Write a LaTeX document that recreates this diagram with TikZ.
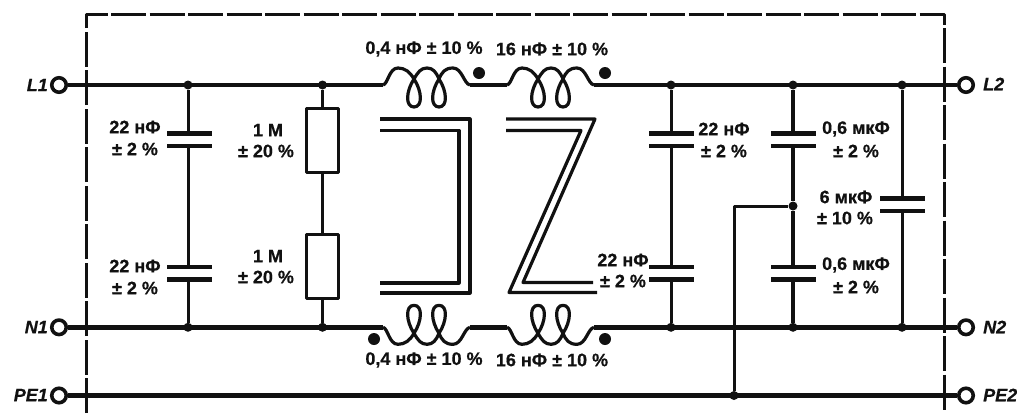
\documentclass[tikz,border=0pt]{standalone}
\usepackage{fontspec}
\setmainfont{Liberation Sans}[BoldFont={Liberation Sans Bold},BoldItalicFont={Liberation Sans Bold Italic},BoldFeatures={FakeBold=0.6},BoldItalicFeatures={FakeBold=0.6}]
\definecolor{ink}{HTML}{111111}
\tikzset{
  x=1pt,y=-1pt,
  every path/.style={draw=ink,line join=round},
  wire/.style={line width=4.4pt},
  thin wire/.style={line width=3pt},
  mid wire/.style={line width=4pt},
  plate/.style={line width=4.2pt},
  frame/.style={line width=3pt,dash pattern=on 35pt off 3.5pt},
  core/.style={line width=3.2pt,miter limit=20},
  coilline/.style={line width=3.2pt,line join=round},
  term/.style={circle,draw=ink,line width=3.6pt,fill=white,inner sep=0pt,minimum size=14.5pt},
  dot/.style={circle,fill=ink,draw=none,inner sep=0pt,minimum size=9pt},
  mark dot/.style={circle,fill=ink,draw=none,inner sep=0pt,minimum size=12pt},
  res/.style={rectangle,draw=ink,line width=3.2pt,fill=white,inner sep=0pt,minimum width=32pt,minimum height=64pt},
  lbl/.style={font=\bfseries\fontsize{18}{20}\selectfont,text=ink,inner sep=0pt,anchor=center},
  tname/.style={font=\bfseries\itshape\fontsize{18}{20}\selectfont,text=ink,inner sep=0pt},
}
\newcommand{\coilpath}[3]{% x start, y rail, direction
  \draw[coilline,shift={(#1,#2)},yscale=#3]
    (0,0) .. controls (5,-1) and (6,-17) .. (15,-17)
    .. controls (22,-17) and (27,-13) .. (31,-6)
    .. controls (39,6) and (40,22) .. (31,22)
    .. controls (22,22) and (23,6) .. (31,-6)
    .. controls (35,-13) and (38,-17) .. (44,-17)
    .. controls (50,-17) and (53,-13) .. (56,-6)
    .. controls (64,6) and (65,22) .. (56,22)
    .. controls (47,22) and (48,6) .. (56,-6)
    .. controls (59,-13) and (62,-17) .. (70,-17)
    .. controls (79,-17) and (81,-1) .. (87,0);
}
\newcommand{\capH}[3]{% name, x, upper plate y / lower plate y from #3
  \coordinate (#1a) at (#2,#3);
  \coordinate (#1b) at (#2,#3+12.5);
  \draw[plate] ([xshift=-22.5pt]#1a) -- ([xshift=22.5pt]#1a);
  \draw[plate] ([xshift=-22.5pt]#1b) -- ([xshift=22.5pt]#1b);
}
\begin{document}
\begin{tikzpicture}
\useasboundingbox[draw=none] (0,0) rectangle (1017,413);
% frame
\coordinate (fa) at (86.5,413);
\coordinate (fb) at (86.5,14);
\coordinate (fc) at (944,14);
\coordinate (fd) at (944,413);
\draw[frame] (fa) -- (fb) -- (fc) -- (fd);
% terminals
\node[term] (L1) at (59,85) {};
\node[term] (N1) at (59,327.3) {};
\node[term] (PE1) at (59,395.5) {};
\node[term] (L2) at (966,85) {};
\node[term] (N2) at (966,327.3) {};
\node[term] (PE2) at (966,395.5) {};
\node[tname,anchor=east] (tL1) at (48,85) {L1};
\node[tname,anchor=east] (tN1) at (48,327) {N1};
\node[tname,anchor=east] (tPE1) at (48,395) {PE1};
\node[tname,anchor=west] (tL2) at (983,84) {L2};
\node[tname,anchor=west] (tN2) at (983,327) {N2};
\node[tname,anchor=west] (tPE2) at (983,395) {PE2};
% junctions
\node[dot] (j1t) at (188,85) {};
\node[dot] (j1b) at (188,327.3) {};
\node[dot] (j2t) at (322.5,85) {};
\node[dot] (j2b) at (322.5,327.3) {};
\node[dot] (j3t) at (671,85) {};
\node[dot] (j3b) at (671,327.3) {};
\node[dot] (j4t) at (793,85) {};
\node[dot] (j4m) at (793,206) {};
\node[dot] (j4b) at (793,327.3) {};
\node[dot] (j5t) at (902,85) {};
\node[dot] (j5b) at (902,327.3) {};
\node[dot] (j6) at (734,395.5) {};
% coil ends
\coordinate (c1a) at (383,85); \coordinate (c1b) at (470,85);
\coordinate (c2a) at (507,85); \coordinate (c2b) at (594,85);
\coordinate (c3a) at (383,327.3); \coordinate (c3b) at (470,327.3);
\coordinate (c4a) at (507,327.3); \coordinate (c4b) at (594,327.3);
% rails
\draw[wire] (L1) -- (c1a);
\draw[wire] (c1b) -- (c2a);
\draw[wire] (c2b) -- (L2);
\draw[wire] (N1) -- (c3a);
\draw[wire] (c3b) -- (c4a);
\draw[wire] (c4b) -- (N2);
\draw[wire] (PE1) -- (PE2);
% coils
\coilpath{383}{85}{1}
\coilpath{507}{85}{1}
\coilpath{383}{327.3}{-1}
\coilpath{507}{327.3}{-1}
\node[mark dot] (m1) at (479,73) {};
\node[mark dot] (m2) at (605,73) {};
\node[mark dot] (m3) at (374,339) {};
\node[mark dot] (m4) at (605,339) {};
% cores
\coordinate (k1) at (380,119); \coordinate (k2) at (470,119); \coordinate (k3) at (470,293); \coordinate (k4) at (380,293);
\coordinate (k5) at (380,130.5); \coordinate (k6) at (459,130.5); \coordinate (k7) at (459,283); \coordinate (k8) at (380,283);
\draw[core] (k1) -- (k2) -- (k3) -- (k4);
\draw[core] (k5) -- (k6) -- (k7) -- (k8);
\coordinate (z1) at (506,119); \coordinate (z2) at (595,119); \coordinate (z3) at (523,282.5); \coordinate (z4) at (593,282.5);
\coordinate (z5) at (506,130.5); \coordinate (z6) at (581,130.5); \coordinate (z7) at (509,292.5); \coordinate (z8) at (597,292.5);
\draw[core] (z1) -- (z2) -- (z3) -- (z4);
\draw[core] (z5) -- (z6) -- (z7) -- (z8);
% capacitors
\capH{a}{189.5}{133.5}
\capH{b}{189.5}{267}
\capH{c}{671.5}{133.5}
\capH{d}{671.5}{267}
\capH{e}{793.5}{133.5}
\capH{f}{793.5}{267}
\capH{g}{902.5}{198.5}
\draw[thin wire] (j1t) -- (188,133.5);
\draw[thin wire] (188,146) -- (188,267);
\draw[thin wire] (188,279.5) -- (j1b);
\draw[thin wire] (j3t) -- (671,133.5);
\draw[thin wire] (671,146) -- (671,267);
\draw[thin wire] (671,279.5) -- (j3b);
\draw[mid wire] (j4t) -- (793,133.5);
\draw[mid wire] (793,146) -- (j4m);
\draw[mid wire] (j4m) -- (793,267);
\draw[mid wire] (793,279.5) -- (j4b);
\draw[thin wire] (j5t) -- (902,198.5);
\draw[thin wire] (902,211) -- (j5b);
\draw[thin wire] (j4m) -| (j6);
% resistors
\node[res] (r1) at (322.5,140.5) {};
\node[res] (r2) at (322.5,266.5) {};
\draw[thin wire] (j2t) -- (r1);
\draw[thin wire] (r1) -- (r2);
\draw[thin wire] (r2) -- (j2b);
% labels
\node[lbl] (t1) at (135,127) {22 нФ};
\node[lbl] (t2) at (135,149) {± 2 \%};
\node[lbl] (t3) at (135,266) {22 нФ};
\node[lbl] (t4) at (135,288) {± 2 \%};
\node[lbl] (t5) at (268,130) {1 М};
\node[lbl] (t6) at (266,151) {± 20 \%};
\node[lbl] (t7) at (268,256) {1 М};
\node[lbl] (t8) at (266,277) {± 20 \%};
\node[lbl] (t9) at (424,49) {0,4 нФ ± 10 \%};
\node[lbl] (t10) at (552,49) {16 нФ ± 10 \%};
\node[lbl] (t11) at (424,360) {0,4 нФ ± 10 \%};
\node[lbl] (t12) at (552,360) {16 нФ ± 10 \%};
\node[lbl] (t13) at (623,260) {22 нФ};
\node[lbl] (t14) at (623,281) {± 2 \%};
\node[lbl] (t15) at (724,129) {22 нФ};
\node[lbl] (t16) at (724,151) {± 2 \%};
\node[lbl] (t17) at (856,129) {0,6 мкФ};
\node[lbl] (t18) at (856,151) {± 2 \%};
\node[lbl] (t19) at (856,265) {0,6 мкФ};
\node[lbl] (t20) at (856,287) {± 2 \%};
\node[lbl] (t21) at (846,197) {6 мкФ};
\node[lbl] (t22) at (845,218) {± 10 \%};
\end{tikzpicture}
\end{document}
